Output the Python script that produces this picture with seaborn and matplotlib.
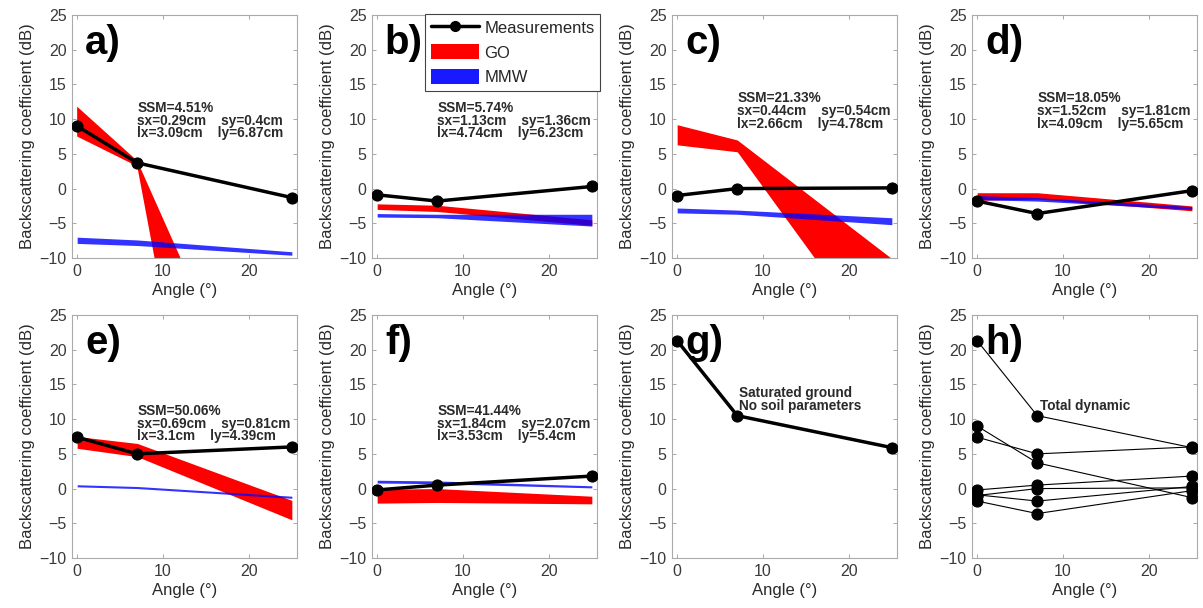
import numpy as np
import pandas as pd

import matplotlib
matplotlib.use("Agg")
import matplotlib.pyplot as plt
import seaborn as sns
from matplotlib.patches import Patch
from matplotlib.lines import Line2D

# ==========================================
# DATA
# ==========================================

angles = [0, 7, 25]

# measurements (dB)
meas_a = [9.0, 3.7, -1.3]
meas_b = [-0.9, -1.8, 0.3]
meas_c = [-1.0, 0.0, 0.1]
meas_d = [-1.8, -3.6, -0.3]
meas_e = [7.4, 5.0, 6.0]
meas_f = [-0.2, 0.5, 1.8]
meas_g = [21.3, 10.5, 5.9]

# GO model band (lower / upper)
go_lo_a = [7.5, 3.2, -115.0]
go_hi_a = [11.8, 4.0, -46.0]
go_lo_b = [-3.0, -3.3, -5.3]
go_hi_b = [-2.2, -2.4, -4.5]
go_lo_c = [6.3, 5.3, -25.3]
go_hi_c = [9.2, 7.0, -10.1]
go_lo_d = [-1.7, -1.5, -3.2]
go_hi_d = [-0.6, -0.6, -2.5]
go_lo_e = [5.8, 4.6, -4.5]
go_hi_e = [7.5, 6.5, -1.7]
go_lo_f = [-2.1, -2.0, -2.2]
go_hi_f = [-0.1, 0.0, -1.1]

# MMW model band (lower / upper)
mmw_lo_a = [-7.9, -8.2, -9.6]
mmw_hi_a = [-7.0, -7.4, -9.1]
mmw_lo_b = [-4.1, -4.2, -5.4]
mmw_hi_b = [-3.6, -3.7, -3.7]
mmw_lo_c = [-3.5, -3.7, -5.2]
mmw_hi_c = [-2.8, -3.1, -4.2]
mmw_lo_d = [-1.6, -1.8, -3.0]
mmw_hi_d = [-1.0, -1.3, -2.6]
mmw_lo_e = [0.25, 0.0, -1.4]
mmw_hi_e = [0.55, 0.3, -1.1]
mmw_lo_f = [0.8, 0.7, 0.1]
mmw_hi_f = [1.2, 1.1, 0.4]

panel_labels = ["a)", "b)", "c)", "d)", "e)", "f)", "g)", "h)"]

params_a = "SSM=4.51%\nsx=0.29cm    sy=0.4cm\nlx=3.09cm    ly=6.87cm"
params_b = "SSM=5.74%\nsx=1.13cm    sy=1.36cm\nlx=4.74cm    ly=6.23cm"
params_c = "SSM=21.33%\nsx=0.44cm    sy=0.54cm\nlx=2.66cm    ly=4.78cm"
params_d = "SSM=18.05%\nsx=1.52cm    sy=1.81cm\nlx=4.09cm    ly=5.65cm"
params_e = "SSM=50.06%\nsx=0.69cm    sy=0.81cm\nlx=3.1cm    ly=4.39cm"
params_f = "SSM=41.44%\nsx=1.84cm    sy=2.07cm\nlx=3.53cm    ly=5.4cm"
note_g = "Saturated ground\nNo soil parameters"
note_h = "Total dynamic"

# ==========================================
# STYLE
# ==========================================

sns.set_theme(style="white")
plt.rcParams['font.family'] = ['Liberation Sans', 'DejaVu Sans']

RED = "#ff0000"
BLUE = "#0000ff"
TXT = "#2a2a2a"

fig = plt.figure(figsize=(12.03, 6.08), dpi=100)

W, H = 1203.0, 608.0
lefts = [72, 372, 672, 972]
tops = [15, 315]
aw, ah = 225, 243

axes = []
for r in range(2):
    for c in range(4):
        ax = fig.add_axes([lefts[c] / W, 1 - (tops[r] + ah) / H, aw / W, ah / H])
        axes.append(ax)


def style_axis(ax):
    ax.set_xlim(-0.6, 25.6)
    ax.set_ylim(-10, 25)
    ax.set_xticks([0, 10, 20])
    ax.set_yticks(np.arange(-10, 26, 5))
    ax.tick_params(direction="in", length=3, width=0.6, colors="#999999",
                   labelcolor="#3a3a3a", labelsize=11.5, pad=4,
                   top=True, right=True, left=True, bottom=True)
    for s in ax.spines.values():
        s.set_color("#aaaaaa")
        s.set_linewidth(0.8)
    ax.set_xlabel("Angle (°)", fontsize=12, color=TXT, labelpad=3)
    ax.set_ylabel("Backscattering coefficient (dB)", fontsize=12, color=TXT, labelpad=3)


def draw_meas(ax, vals, lw=2.5):
    df = pd.DataFrame({"angle": angles, "sigma": vals})
    sns.lineplot(data=df, x="angle", y="sigma", ax=ax, color="black",
                 linewidth=lw, marker="o", markersize=8,
                 markeredgecolor="black", zorder=5)


def draw_band(ax, lo, hi, color, alpha=1.0, z=2):
    ax.fill_between(angles, lo, hi, color=color, alpha=alpha,
                    linewidth=0, zorder=z)


# ==========================================
# PANELS a-f
# ==========================================

model_panels = [
    (meas_a, go_lo_a, go_hi_a, mmw_lo_a, mmw_hi_a, params_a, 12.6),
    (meas_b, go_lo_b, go_hi_b, mmw_lo_b, mmw_hi_b, params_b, 12.6),
    (meas_c, go_lo_c, go_hi_c, mmw_lo_c, mmw_hi_c, params_c, 14.0),
    (meas_d, go_lo_d, go_hi_d, mmw_lo_d, mmw_hi_d, params_d, 14.0),
    (meas_e, go_lo_e, go_hi_e, mmw_lo_e, mmw_hi_e, params_e, 12.2),
    (meas_f, go_lo_f, go_hi_f, mmw_lo_f, mmw_hi_f, params_f, 12.2),
]

for i, (meas, glo, ghi, mlo, mhi, txt, ty) in enumerate(model_panels):
    ax = axes[i]
    draw_band(ax, glo, ghi, RED, 1.0, 2)
    draw_band(ax, mlo, mhi, BLUE, 0.8, 3)
    draw_meas(ax, meas)
    ax.text(7.0, ty, txt, fontsize=9.8, fontweight="bold", color=TXT,
            va="top", ha="left", linespacing=0.88, zorder=6)

# ==========================================
# PANEL g
# ==========================================

ax = axes[6]
draw_meas(ax, meas_g)
ax.text(7.2, 14.8, note_g, fontsize=9.8, fontweight="bold", color=TXT,
        va="top", ha="left", linespacing=0.9, zorder=6)

# ==========================================
# PANEL h
# ==========================================

ax = axes[7]
for vals in [meas_a, meas_b, meas_c, meas_d, meas_e, meas_f, meas_g]:
    draw_meas(ax, vals, lw=0.8)
ax.text(7.3, 12.9, note_h, fontsize=9.8, fontweight="bold", color=TXT,
        va="top", ha="left", zorder=6)

# ==========================================
# LABELS / AXES
# ==========================================

for ax, lab in zip(axes, panel_labels):
    style_axis(ax)
    ax.text(0.9, 21.0, lab, fontsize=29, fontweight="bold", color="black",
            va="center", ha="left", zorder=7)

# ==========================================
# LEGEND
# ==========================================

handles = [
    Line2D([0], [0], color="black", linewidth=2.5, marker="o", markersize=7),
    Patch(facecolor=RED, edgecolor="none"),
    Patch(facecolor=BLUE, edgecolor="none", alpha=0.9),
]
leg = axes[1].legend(handles, ["Measurements", "GO", "MMW"],
                     loc="upper left", bbox_to_anchor=(425 / W, 1 - 14 / H),
                     bbox_transform=fig.transFigure, fontsize=12,
                     frameon=True, fancybox=False, framealpha=1,
                     edgecolor="#444444", borderpad=0.35, labelspacing=0.5,
                     handlelength=2.9, handleheight=1.0, handletextpad=0.3,
                     borderaxespad=0)
leg.get_frame().set_linewidth(0.8)
leg.set_zorder(10)

plt.savefig("out.png", dpi=100)
plt.close()
